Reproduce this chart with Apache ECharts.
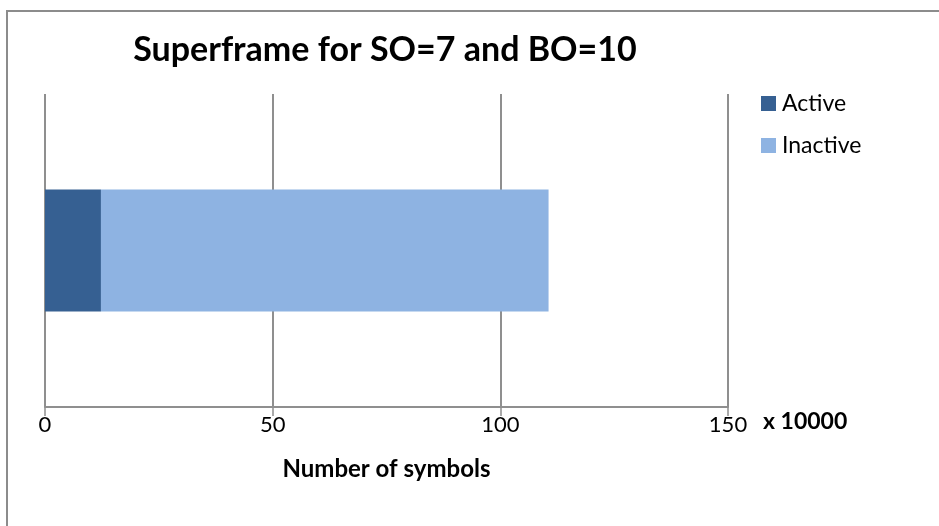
<!DOCTYPE html>
<html>
<head>
<meta charset="utf-8">
<script src="https://cdn.jsdelivr.net/npm/echarts@6/dist/echarts.min.js"></script>
<style>
  html, body { margin: 0; padding: 0; background: #fff; }
  #chart { width: 939px; height: 526px; }
</style>
</head>
<body>
<div id="chart"></div>
<script>
// Superframe breakdown, in units of 10000 symbols
const categories = [''];
const activeValues = [12.288];
const inactiveValues = [98.304];
const axisTicks = [0, 50, 100, 150];

const FONT = 'Lato, "Open Sans", sans-serif';
const GRID_COLOR = '#8f8f8f';

const chart = echarts.init(document.getElementById('chart'));

chart.setOption({
  backgroundColor: '#ffffff',
  animation: false,
  title: {
    text: 'Superframe for SO=7 and BO=10',
    left: 380,
    top: 28,
    textAlign: 'center',
    textStyle: { fontFamily: FONT, fontSize: 34, fontWeight: 'bold', color: '#000' }
  },
  legend: {
    orient: 'vertical',
    left: 756,
    top: 87,
    itemWidth: 15,
    itemHeight: 15,
    itemGap: 19,
    icon: 'rect',
    textStyle: { fontFamily: FONT, fontSize: 23, color: '#000', padding: [0, 0, 0, 1] },
    data: ['Active', 'Inactive']
  },
  grid: { left: 45, right: 211, top: 94, bottom: 119, containLabel: false },
  xAxis: {
    type: 'value',
    min: axisTicks[0],
    max: axisTicks[axisTicks.length - 1],
    interval: axisTicks[1] - axisTicks[0],
    name: 'Number of symbols',
    nameLocation: 'middle',
    nameGap: 50,
    nameTextStyle: { fontFamily: FONT, fontSize: 24, fontWeight: 'bold', color: '#000' },
    axisLine: { show: true, lineStyle: { color: GRID_COLOR, width: 2 } },
    axisTick: { show: true, length: 9, lineStyle: { color: GRID_COLOR, width: 1.5 } },
    axisLabel: { fontFamily: FONT, fontSize: 22, color: '#000', margin: 7 },
    splitLine: { show: true, lineStyle: { color: GRID_COLOR, width: 2 } }
  },
  yAxis: {
    type: 'category',
    data: categories,
    axisLine: { show: false },
    axisTick: { show: false },
    axisLabel: { show: false },
    splitLine: { show: false }
  },
  graphic: [
    {
      type: 'text',
      left: 763,
      top: 410,
      style: { text: 'x 10000', fontFamily: FONT, fontSize: 23, fontWeight: 'bold', fill: '#000' }
    },
    {
      // frame edges
      type: 'polyline',
      shape: { points: [[7, 526], [7, 11], [939, 11]] },
      style: { stroke: '#8c8c8c', lineWidth: 2, fill: null },
      silent: true
    }
  ],
  series: [
    {
      name: 'Active',
      type: 'bar',
      stack: 'frame',
      barWidth: '39%',
      data: activeValues,
      itemStyle: { color: '#366092' }
    },
    {
      name: 'Inactive',
      type: 'bar',
      stack: 'frame',
      barWidth: '39%',
      data: inactiveValues,
      itemStyle: { color: '#8eb3e2' }
    }
  ]
});
</script>
</body>
</html>
